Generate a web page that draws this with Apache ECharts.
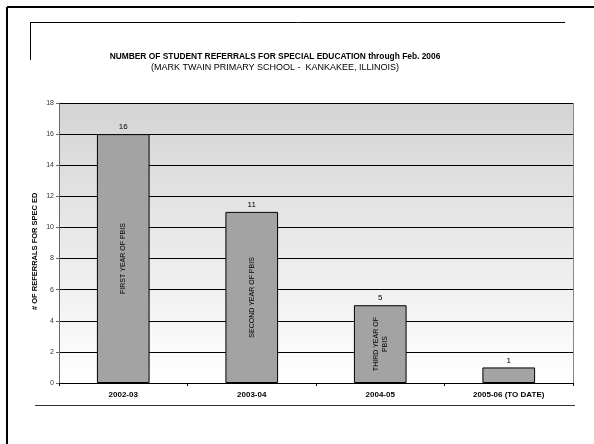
<!DOCTYPE html>
<html><head><meta charset="utf-8">
<script src="https://cdn.jsdelivr.net/npm/echarts@6/dist/echarts.min.js"></script>
<style>html,body{margin:0;padding:0;background:#fff}#c{width:594px;height:444px}</style>
</head><body><div id="c"></div>
<script>
const categories = ['2002-03', '2003-04', '2004-05', '2005-06 (TO DATE)'];
const referrals = [16, 11, 5, 1];
const barNotes = ['FIRST YEAR OF PBIS', 'SECOND YEAR OF PBIS', 'THIRD YEAR OF\nPBIS', ''];
const yTicks = [0, 2, 4, 6, 8, 10, 12, 14, 16, 18];
const yTitle = '# OF REFERRALS FOR SPEC ED';

const chart = echarts.init(document.getElementById('c'));
const F = '"Liberation Sans", Arial, sans-serif';
chart.setOption({
  animation: false,
  textStyle: { fontFamily: F },
  title: {
    text: 'NUMBER OF STUDENT REFERRALS FOR SPECIAL EDUCATION through Feb. 2006',
    subtext: '(MARK TWAIN PRIMARY SCHOOL -  KANKAKEE, ILLINOIS)',
    left: 270, top: 48, textAlign: 'center', itemGap: 2,
    textStyle: { fontFamily: F, fontSize: 8.4, fontWeight: 'bold', color: '#000' },
    subtextStyle: { fontFamily: F, fontSize: 9, color: '#000' }
  },
  grid: {
    left: 59, right: 21, top: 103, bottom: 61, show: true, borderWidth: 0,
    backgroundColor: new echarts.graphic.LinearGradient(0, 0, 0, 1, [
      { offset: 0, color: '#d4d4d4' }, { offset: 1, color: '#ffffff' }
    ])
  },
  xAxis: {
    type: 'category', data: categories,
    axisLine: { lineStyle: { color: '#000', width: 1 } },
    axisTick: { show: true, length: 3, lineStyle: { color: '#000' } },
    axisLabel: { fontFamily: F, fontSize: 8, fontWeight: 'bold', color: '#000', margin: 8 }
  },
  yAxis: {
    type: 'value', min: 0, max: 18, interval: 2,
    axisLine: { show: true, lineStyle: { color: '#666', width: 1 } },
    axisTick: { show: true, length: 3, lineStyle: { color: '#666' } },
    axisLabel: { fontFamily: F, fontSize: 7, color: '#333', margin: 5,
      formatter: v => yTicks.includes(v) ? String(v) : '' },
    splitLine: { lineStyle: { color: '#000', width: 1 } }
  },
  series: [
    {
      type: 'bar', data: referrals, barWidth: '41%',
      itemStyle: { color: '#a3a3a3', borderColor: '#000', borderWidth: 1 },
      label: { show: true, position: 'top', fontFamily: F, fontSize: 8, color: '#000', distance: 3 }
    },
    {
      type: 'bar', data: referrals, barWidth: '41%', barGap: '-100%', silent: true,
      itemStyle: { color: 'rgba(0,0,0,0)' },
      label: { show: true, position: 'inside', rotate: 90, fontFamily: F, fontSize: 7, color: '#000',
        lineHeight: 9, formatter: p => barNotes[p.dataIndex] }
    }
  ],
  graphic: [
    { type: 'line', shape: { x1: 7, y1: 7, x2: 594, y2: 7 }, style: { stroke: '#000', lineWidth: 2 } },
    { type: 'line', shape: { x1: 7, y1: 7, x2: 7, y2: 444 }, style: { stroke: '#000', lineWidth: 2 } },
    { type: 'line', shape: { x1: 30, y1: 22.5, x2: 565, y2: 22.5 }, style: { stroke: '#000', lineWidth: 1 } },
    { type: 'line', shape: { x1: 30.5, y1: 22, x2: 30.5, y2: 60 }, style: { stroke: '#000', lineWidth: 1 } },
    { type: 'line', shape: { x1: 35, y1: 405.5, x2: 575, y2: 405.5 }, style: { stroke: '#333', lineWidth: 1 } },
    { type: 'line', shape: { x1: 573.5, y1: 103, x2: 573.5, y2: 383 }, style: { stroke: '#888', lineWidth: 1 } },
    { type: 'line', shape: { x1: 59, y1: 103.5, x2: 573, y2: 103.5 }, style: { stroke: '#888', lineWidth: 1 } },
    { type: 'text', x: 35, y: 310, rotation: Math.PI / 2,
      style: { text: yTitle, font: 'bold 7.5px "Liberation Sans", Arial, sans-serif', fill: '#000',
        textAlign: 'left', textVerticalAlign: 'middle' } }
  ]
});
</script></body></html>
